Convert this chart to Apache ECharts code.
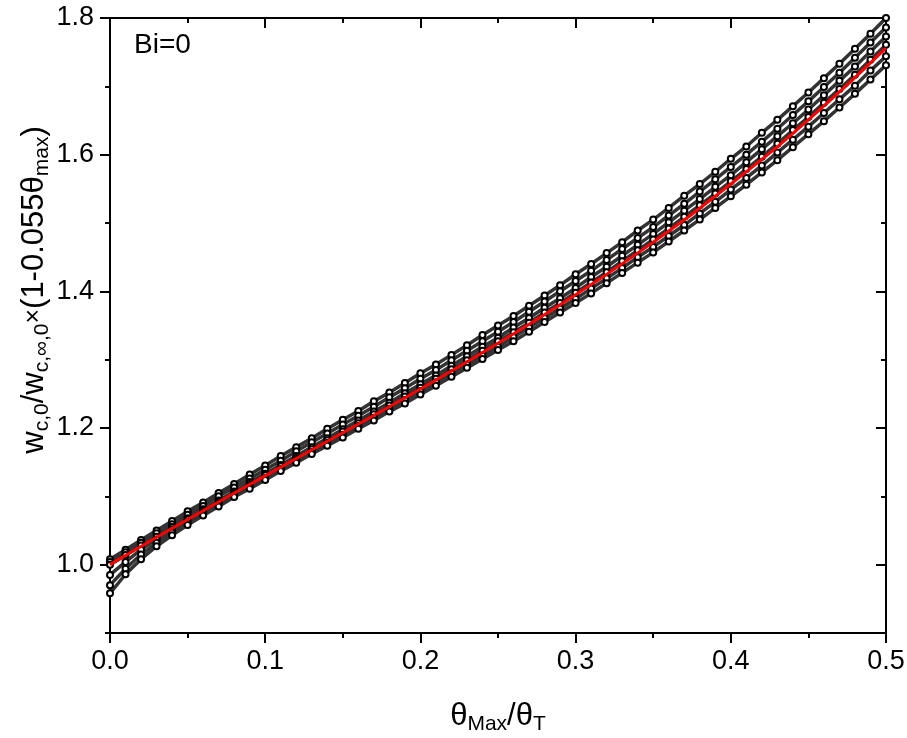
<!DOCTYPE html>
<html>
<head>
<meta charset="utf-8">
<script src="https://cdn.jsdelivr.net/npm/echarts@6/dist/echarts.min.js"></script>
<style>
    html, body { margin: 0; padding: 0; background: #fff; }
    #chart { width: 907px; height: 738px; }
</style>
</head>
<body>
<div id="chart"></div>
<script>
// x positions of the simulated points (theta_Max / theta_T)
const thetaRatio = [0.00, 0.01, 0.02, 0.03, 0.04, 0.05, 0.06, 0.07, 0.08, 0.09,
    0.10, 0.11, 0.12, 0.13, 0.14, 0.15, 0.16, 0.17, 0.18, 0.19,
    0.20, 0.21, 0.22, 0.23, 0.24, 0.25, 0.26, 0.27, 0.28, 0.29,
    0.30, 0.31, 0.32, 0.33, 0.34, 0.35, 0.36, 0.37, 0.38, 0.39,
    0.40, 0.41, 0.42, 0.43, 0.44, 0.45, 0.46, 0.47, 0.48, 0.49, 0.50];

// simulated curves (open circles), top to bottom
const curve1 = [1.008, 1.022, 1.036, 1.050, 1.064, 1.078, 1.091, 1.105, 1.118, 1.132,
    1.145, 1.159, 1.172, 1.185, 1.199, 1.212, 1.225, 1.239, 1.252, 1.266,
    1.280, 1.293, 1.307, 1.321, 1.336, 1.350, 1.364, 1.379, 1.394, 1.409,
    1.425, 1.440, 1.456, 1.472, 1.489, 1.505, 1.522, 1.540, 1.557, 1.575,
    1.594, 1.612, 1.632, 1.651, 1.671, 1.691, 1.712, 1.733, 1.755, 1.777, 1.800];
const curve2 = [1.004, 1.018, 1.032, 1.046, 1.059, 1.073, 1.086, 1.100, 1.113, 1.126,
    1.139, 1.152, 1.166, 1.179, 1.192, 1.205, 1.218, 1.231, 1.245, 1.258,
    1.272, 1.285, 1.299, 1.313, 1.327, 1.341, 1.355, 1.370, 1.385, 1.400,
    1.415, 1.430, 1.446, 1.462, 1.478, 1.494, 1.511, 1.528, 1.546, 1.564,
    1.582, 1.600, 1.619, 1.638, 1.658, 1.678, 1.699, 1.720, 1.742, 1.764, 1.786];
const curve3 = [1.000, 1.014, 1.028, 1.041, 1.055, 1.068, 1.081, 1.094, 1.107, 1.121,
    1.133, 1.146, 1.159, 1.172, 1.185, 1.198, 1.211, 1.224, 1.237, 1.251,
    1.264, 1.277, 1.291, 1.305, 1.319, 1.332, 1.347, 1.361, 1.376, 1.390,
    1.405, 1.421, 1.436, 1.452, 1.468, 1.484, 1.501, 1.518, 1.535, 1.553,
    1.570, 1.589, 1.608, 1.627, 1.646, 1.666, 1.687, 1.708, 1.729, 1.751, 1.773];
const curve4 = [0.985, 1.004, 1.022, 1.037, 1.052, 1.066, 1.079, 1.092, 1.105, 1.118,
    1.131, 1.144, 1.156, 1.169, 1.182, 1.195, 1.207, 1.220, 1.233, 1.246,
    1.259, 1.272, 1.286, 1.299, 1.313, 1.327, 1.340, 1.354, 1.369, 1.383,
    1.398, 1.413, 1.428, 1.444, 1.460, 1.476, 1.492, 1.509, 1.526, 1.543,
    1.561, 1.579, 1.597, 1.616, 1.636, 1.655, 1.676, 1.696, 1.717, 1.739, 1.761];
const curve5 = [0.970, 0.994, 1.015, 1.032, 1.047, 1.062, 1.076, 1.089, 1.102, 1.115,
    1.127, 1.140, 1.153, 1.165, 1.178, 1.190, 1.203, 1.215, 1.228, 1.241,
    1.254, 1.267, 1.280, 1.293, 1.306, 1.319, 1.333, 1.347, 1.361, 1.375,
    1.389, 1.404, 1.419, 1.434, 1.450, 1.465, 1.481, 1.497, 1.514, 1.531,
    1.549, 1.566, 1.584, 1.603, 1.622, 1.641, 1.661, 1.681, 1.701, 1.723, 1.744];
const curve6 = [0.958, 0.986, 1.008, 1.027, 1.043, 1.058, 1.072, 1.085, 1.099, 1.111,
    1.124, 1.137, 1.149, 1.162, 1.174, 1.186, 1.199, 1.211, 1.224, 1.236,
    1.249, 1.262, 1.275, 1.288, 1.301, 1.314, 1.327, 1.341, 1.355, 1.369,
    1.383, 1.397, 1.412, 1.427, 1.442, 1.457, 1.473, 1.489, 1.505, 1.522,
    1.539, 1.556, 1.574, 1.592, 1.611, 1.630, 1.649, 1.669, 1.689, 1.710, 1.731];
const curves = [curve1, curve2, curve3, curve4, curve5, curve6];

// fitted correlation (red line)
const fitX = [0.00, 0.05, 0.10, 0.15, 0.20, 0.25, 0.30, 0.35, 0.40, 0.45, 0.50];
const fitY = [1.000, 1.066, 1.130, 1.193, 1.257, 1.324, 1.395, 1.472, 1.557, 1.651, 1.756];

// axis ticks
const yMajorTicks = [1.0, 1.2, 1.4, 1.6, 1.8];

const FONT = 'Liberation Sans, Arial, sans-serif';
const pair = (xs, ys) => xs.map((x, i) => [x, ys[i]]);

let chartDom = document.getElementById('chart');
let chart = echarts.init(chartDom, null, { renderer: 'canvas' });

function xAxisDef(pos, minor, show) {
    return {
        type: 'value',
        position: pos,
        min: 0,
        max: 0.5,
        interval: minor ? 0.05 : 0.1,
        axisLine: { show: !minor, onZero: false, lineStyle: { color: '#000', width: 2 } },
        axisTick: {
            show: true,
            inside: pos === 'top',
            length: minor ? 5 : 10,
            lineStyle: { color: '#000', width: 2 }
        },
        axisLabel: {
            show: show,
            margin: 15,
            color: '#000',
            fontFamily: FONT,
            fontSize: 27,
            formatter: v => v.toFixed(1)
        },
        splitLine: { show: false }
    };
}

function yAxisDef(pos, minor, show) {
    let axis = {
        type: 'value',
        position: pos,
        min: 0.9,
        max: 1.8,
        interval: 0.1,
        axisLine: { show: !minor, onZero: false, lineStyle: { color: '#000', width: 2 } },
        axisTick: {
            show: true,
            inside: pos === 'right',
            length: minor ? 5 : 10,
            lineStyle: { color: '#000', width: 2 }
        },
        axisLabel: {
            show: show,
            margin: 16,
            color: '#000',
            fontFamily: FONT,
            fontSize: 27,
            formatter: v => v.toFixed(1)
        },
        splitLine: { show: false }
    };
    if (!minor) {
        axis.axisTick.customValues = yMajorTicks;
        axis.axisLabel.customValues = yMajorTicks;
    }
    return axis;
}

let blackSeries = curves.map((c, i) => ({
    name: 'curve' + (i + 1),
    type: 'line',
    xAxisIndex: 0,
    yAxisIndex: 0,
    data: pair(thetaRatio, c),
    symbol: 'emptyCircle',
    symbolSize: 6,
    showAllSymbol: true,
    itemStyle: { color: '#000', borderWidth: 1 },
    lineStyle: { color: '#333', width: 3.5 },
    z: 2
}));

let option = {
    backgroundColor: '#fff',
    animation: false,
    textStyle: { fontFamily: FONT },
    grid: { left: 110, right: 21, top: 18, bottom: 105, containLabel: false, outerBoundsMode: 'none' },
    title: {
        text: 'Bi=0',
        left: 134,
        top: 31,
        padding: 0,
        textStyle: { fontFamily: FONT, fontSize: 28, fontWeight: 'normal', color: '#000' }
    },
    xAxis: [
        Object.assign(xAxisDef('bottom', false, true), {
            name: '{t|θ}{s|Max}{t|/θ}{s|T}',
            nameLocation: 'middle',
            nameGap: 64,
            nameTextStyle: {
                rich: {
                    t: { fontFamily: FONT, fontSize: 31, color: '#000' },
                    s: { fontFamily: FONT, fontSize: 21, color: '#000', padding: [17, 0, 0, 0] }
                }
            }
        }),
        xAxisDef('bottom', true, false),
        xAxisDef('top', false, false),
        xAxisDef('top', true, false)
    ],
    yAxis: [
        yAxisDef('left', false, true),
        yAxisDef('left', true, false),
        yAxisDef('right', false, false),
        yAxisDef('right', true, false)
    ],
    graphic: [
        {
            type: 'text',
            x: 34,
            y: 290,
            rotation: Math.PI / 2,
            style: {
                text: '{t|w}{s|c,0}{t|/w}{s|c,∞,0}{m|×}{t|(1-0.055θ}{s|max}{t|)}',
                align: 'center',
                verticalAlign: 'middle',
                rich: {
                    t: { fontFamily: FONT, fontSize: 31, fill: '#000' },
                    m: { fontFamily: FONT, fontSize: 25, fill: '#000' },
                    s: { fontFamily: FONT, fontSize: 21, fill: '#000', padding: [17, 0, 0, 0] }
                }
            }
        }
    ],
    series: blackSeries.concat([
        {
            name: 'fit',
            type: 'line',
            xAxisIndex: 0,
            yAxisIndex: 0,
            data: pair(fitX, fitY),
            smooth: true,
            showSymbol: false,
            lineStyle: { color: '#ff0000', width: 3 },
            z: 5
        }
    ])
};

chart.setOption(option);

window.addEventListener('resize', () => {
    chart.resize();
});
</script>
</body>
</html>
